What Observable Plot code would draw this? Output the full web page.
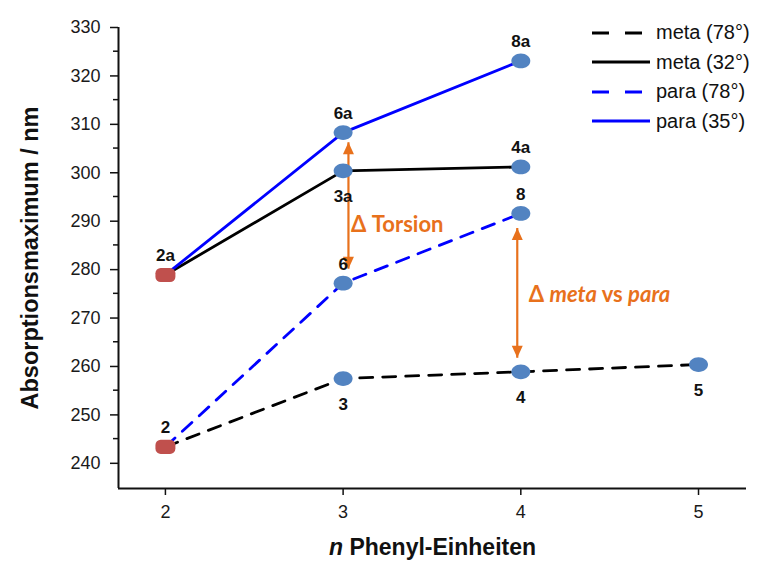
<!DOCTYPE html>
<html>
<head>
<meta charset="utf-8">
<script src="https://cdn.jsdelivr.net/npm/d3@7"></script>
<script src="https://cdn.jsdelivr.net/npm/@observablehq/plot@0.6"></script>
<style>
  body { margin: 0; background: #fff; }
  #wrap { position: relative; width: 771px; height: 562px; }
  #legend { position: absolute; left: 590px; top: 18px; font-family: "Liberation Sans", Arial, sans-serif; font-size: 20px; color: #111; }
  #legend .row { display: flex; align-items: center; height: 29.5px; }
  #legend svg { margin-right: 4px; }
</style>
</head>
<body>
<div id="wrap">
  <div id="chart"></div>
  <div id="legend"></div>
</div>
<script>
// ---- data ----
const nMeta78 = [2, 3, 4, 5];
const meta78 = [243.4, 257.5, 258.9, 260.4];
const nOther = [2, 3, 4];
const meta32 = [278.9, 300.4, 301.2];
const para78 = [243.4, 277.2, 291.6];
const para35 = [278.9, 308.3, 323.1];

const seriesNames = ["meta (78°)", "meta (32°)", "para (78°)", "para (35°)"];
const seriesColors = ["#000000", "#000000", "#0000ff", "#0000ff"];
const seriesDashed = [true, false, true, false];

const pointIds = ["2", "2a", "3", "4", "5", "3a", "4a", "6", "8", "6a", "8a"];
const pointN = [2, 2, 3, 4, 5, 3, 4, 3, 4, 3, 4];
const pointVal = [243.4, 278.9, 257.5, 258.9, 260.4, 300.4, 301.2, 277.2, 291.6, 308.3, 323.1];
const pointSide = ["above", "above", "below", "below", "below", "below", "above", "above", "above", "above", "above"];
const pointKind = ["start", "start", "calc", "calc", "calc", "calc", "calc", "calc", "calc", "calc", "calc"];

const arrowNames = ["Δ Torsion", "Δ meta vs para"];
const arrowX = [3.03, 3.98];
const arrowTop = [306.3, 288.6];
const arrowBottom = [280.2, 261.8];
const annotX = [3.045, 4.045];
const annotY = [289.3, 274.8];

const yTicks = [240, 250, 260, 270, 280, 290, 300, 310, 320, 330];
const yMinor = [245, 255, 265, 275, 285, 295, 305, 315, 325];
const xTicks = [2, 3, 4, 5];
const xDomain = [1.736, 5.27];
const yDomain = [234.8, 330];

// ---- build tables ----
const lineData = [];
nMeta78.forEach((n, i) => lineData.push({series: seriesNames[0], n, v: meta78[i]}));
nOther.forEach((n, i) => lineData.push({series: seriesNames[1], n, v: meta32[i]}));
nOther.forEach((n, i) => lineData.push({series: seriesNames[2], n, v: para78[i]}));
nOther.forEach((n, i) => lineData.push({series: seriesNames[3], n, v: para35[i]}));
const points = pointIds.map((id, i) => ({id, n: pointN[i], v: pointVal[i], side: pointSide[i], kind: pointKind[i]}));
const arrows = arrowNames.map((name, i) => ({name, x: arrowX[i], top: arrowTop[i], bottom: arrowBottom[i], tx: annotX[i], ty: annotY[i]}));

const ellipse = {
  draw(ctx, size) {
    const r = Math.sqrt(size / Math.PI);
    const rx = r * 1.28, ry = r, k = 0.5523;
    ctx.moveTo(rx, 0);
    ctx.bezierCurveTo(rx, ry * k, rx * k, ry, 0, ry);
    ctx.bezierCurveTo(-rx * k, ry, -rx, ry * k, -rx, 0);
    ctx.bezierCurveTo(-rx, -ry * k, -rx * k, -ry, 0, -ry);
    ctx.bezierCurveTo(rx * k, -ry, rx, -ry * k, rx, 0);
    ctx.closePath();
  }
};
const roundBox = {
  draw(ctx, size) {
    const r = Math.sqrt(size / Math.PI);
    const w = r * 1.35, h = r * 0.95, c = h * 0.75;
    ctx.moveTo(-w + c, -h);
    ctx.lineTo(w - c, -h);
    ctx.arcTo(w, -h, w, -h + c, c);
    ctx.lineTo(w, h - c);
    ctx.arcTo(w, h, w - c, h, c);
    ctx.lineTo(-w + c, h);
    ctx.arcTo(-w, h, -w, h - c, c);
    ctx.lineTo(-w, -h + c);
    ctx.arcTo(-w, -h, -w + c, -h, c);
    ctx.closePath();
  }
};
const headUp = { draw(ctx) { ctx.moveTo(0, 0); ctx.lineTo(-5.5, 12); ctx.lineTo(5.5, 12); ctx.closePath(); } };
const headDown = { draw(ctx) { ctx.moveTo(0, 0); ctx.lineTo(-5.5, -12); ctx.lineTo(5.5, -12); ctx.closePath(); } };

const orange = "#e8711c";
const FONT = "Liberation Sans, Arial, sans-serif";

const chart = Plot.plot({
  width: 771,
  height: 562,
  marginLeft: 118,
  marginRight: 25,
  marginTop: 27,
  marginBottom: 74,
  style: { fontFamily: FONT, background: "#fff", color: "#1a1a1a" },
  x: { domain: xDomain },
  y: { domain: yDomain },
  marks: [
    Plot.axisY(yTicks, { tickSize: 8, tickPadding: 10, fontSize: 18, stroke: "#111", strokeWidth: 1.5, label: null }),
    Plot.tickY(yMinor, { y: d => d, render: (I, s, v, dims) => {
      const g = d3.create("svg:g");
      I.forEach(i => g.append("line").attr("x1", dims.marginLeft - 5).attr("x2", dims.marginLeft).attr("y1", s.y(yMinor[i])).attr("y2", s.y(yMinor[i])).attr("stroke", "#111").attr("stroke-width", 1.5));
      return g.node();
    }}),
    Plot.axisX(xTicks, { tickSize: 7, tickPadding: 10, fontSize: 18, stroke: "#111", strokeWidth: 1.5, label: null, tickFormat: d => String(d) }),
    Plot.ruleX([xDomain[0]], { stroke: "#111", strokeWidth: 2 }),
    Plot.ruleY([yDomain[0]], { stroke: "#111", strokeWidth: 2 }),
    Plot.line(lineData, {
      filter: d => seriesDashed[seriesNames.indexOf(d.series)],
      x: "n", y: "v", z: "series",
      stroke: d => seriesColors[seriesNames.indexOf(d.series)],
      strokeWidth: 2.8, strokeDasharray: "13,10"
    }),
    Plot.line(lineData, {
      filter: d => !seriesDashed[seriesNames.indexOf(d.series)],
      x: "n", y: "v", z: "series",
      stroke: d => seriesColors[seriesNames.indexOf(d.series)],
      strokeWidth: 2.8
    }),
    Plot.link(arrows, { x1: "x", x2: "x", y1: "top", y2: "bottom", stroke: orange, strokeWidth: 2.2 }),
    Plot.dot(arrows, { x: "x", y: "top", symbol: headUp, fill: orange, stroke: null }),
    Plot.dot(arrows, { x: "x", y: "bottom", symbol: headDown, fill: orange, stroke: null }),
    Plot.dot(points.filter(d => d.kind === "calc"), { x: "n", y: "v", r: 7.4, symbol: ellipse, fill: "#5283c1", stroke: null }),
    Plot.dot(points.filter(d => d.kind === "start"), { x: "n", y: "v", r: 7.4, symbol: roundBox, fill: "#c0504d", stroke: null }),
    Plot.text(points.filter(d => d.side === "above"), { x: "n", y: "v", text: "id", dy: -19, fontSize: 17, fontWeight: "bold", fill: "#111" }),
    Plot.text(points.filter(d => d.side === "below"), { x: "n", y: "v", text: "id", dy: 26, fontSize: 17, fontWeight: "bold", fill: "#111" }),
    Plot.text(arrows, { x: "tx", y: "ty", text: "name", textAnchor: "start", fontSize: 22, fontWeight: "bold", fill: orange, fontFamily: "Lato, 'Open Sans', sans-serif" }),
    Plot.text(["Absorptionsmaximum / nm"], { frameAnchor: "left", textAnchor: "middle", dx: -88, rotate: -90, fontSize: 23.5, fontWeight: "bold", fill: "#111" }),
    Plot.text(["n Phenyl-Einheiten"], { frameAnchor: "bottom", dy: 66, fontSize: 23, fontWeight: "bold", fill: "#111" })
  ]
});
document.getElementById("chart").appendChild(chart);

// mixed styles inside text
d3.select(chart).selectAll("text").each(function() {
  const t = this.textContent;
  if (t === "Δ meta vs para") {
    this.textContent = "";
    const s = d3.select(this);
    s.append("tspan").text("Δ ");
    s.append("tspan").attr("font-style", "italic").text("meta");
    s.append("tspan").text(" vs ");
    s.append("tspan").attr("font-style", "italic").text("para");
  } else if (t === "n Phenyl-Einheiten") {
    this.textContent = "";
    const s = d3.select(this);
    s.append("tspan").attr("font-style", "italic").text("n");
    s.append("tspan").text(" Phenyl-Einheiten");
  }
});

// legend
const legend = d3.select("#legend");
seriesNames.forEach((name, i) => {
  const row = legend.append("div").attr("class", "row");
  const svg = row.append("svg").attr("width", 62).attr("height", 10);
  svg.append("line").attr("x1", 2).attr("x2", 60).attr("y1", 5).attr("y2", 5)
    .attr("stroke", seriesColors[i]).attr("stroke-width", 2.8)
    .attr("stroke-dasharray", seriesDashed[i] ? "17,16" : null);
  row.append("span").text(name);
});
</script>
</body>
</html>
